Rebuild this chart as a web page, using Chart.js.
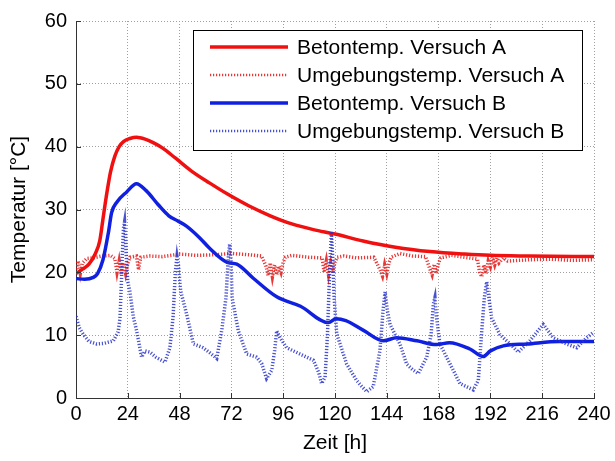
<!DOCTYPE html>
<html>
<head>
<meta charset="utf-8">
<title>Temperaturverlauf</title>
<script src="https://cdn.jsdelivr.net/npm/chart.js@4.4.1/dist/chart.umd.min.js"></script>
<style>
  html, body { margin: 0; padding: 0; background: #fff; }
  #wrap { width: 615px; height: 461px; }
</style>
</head>
<body>
<div id="wrap"><canvas id="chart" width="615" height="461"></canvas></div>
<script>
// ---- data ----
const xTicks = [0, 24, 48, 72, 96, 120, 144, 168, 192, 216, 240];
const yTicks = [0, 10, 20, 30, 40, 50, 60];

const hoursBetonA = [0, 3, 6, 9, 11, 12.5, 14, 16, 18, 20, 22, 25, 28, 32, 36, 40, 46, 54, 62, 70, 80, 90, 100, 110, 120, 133, 148, 164, 180, 192, 210, 240];
const tempBetonA  = [19.8, 20.5, 21.3, 23, 25, 28.5, 32, 36, 38.5, 40, 40.8, 41.3, 41.5, 41.2, 40.6, 39.8, 38.2, 36, 34.2, 32.5, 30.6, 29, 27.7, 26.8, 26.1, 25, 24, 23.3, 22.9, 22.7, 22.6, 22.5];

const hoursUmgA = [0, 1, 2, 3, 5, 8, 12, 16, 18, 19, 20, 21, 22, 23, 24, 25, 28, 29, 30, 34, 40, 48, 56, 64, 72, 80, 86, 88, 89, 90, 91, 92, 93, 94, 95, 96, 97, 100, 108, 114, 115, 116, 117, 118, 119, 120, 121, 124, 130, 138, 141, 142, 143, 144, 145, 146, 150, 156, 162, 164, 165, 166, 167, 168, 169, 174, 180, 186, 187, 188, 189, 190, 191, 192, 193, 194, 195, 196, 198, 200, 210, 220, 230, 240];
const tempUmgA  = [20.5, 21.8, 19.8, 21.5, 22.2, 22.3, 22.6, 22.7, 22.2, 20.0, 21.8, 19.6, 21.5, 19.8, 21.4, 22.4, 22.6, 20.4, 22.4, 22.6, 22.5, 22.9, 22.7, 22.8, 23.0, 22.8, 22.6, 21.0, 19.5, 21.5, 19.3, 21.2, 19.6, 21.0, 20.0, 21.6, 22.4, 22.7, 22.4, 22.3, 20.0, 21.8, 19.6, 21.5, 19.9, 21.6, 22.4, 22.6, 22.3, 22.4, 20.3, 19.4, 21.2, 19.8, 21.5, 22.4, 23.0, 22.6, 22.5, 20.5, 19.6, 21.3, 19.8, 21.5, 22.3, 22.7, 22.4, 22.1, 20.0, 19.3, 21.2, 19.8, 21.8, 20.9, 22.4, 21.2, 22.3, 21.5, 22.3, 21.8, 22.0, 22.1, 21.9, 22.0];

const hoursBetonB = [0, 4, 8, 10, 12.5, 15, 16.5, 19, 23.5, 28, 32.5, 38, 43, 47, 51, 57, 62, 70, 74.5, 82, 93, 104, 117, 120.5, 125, 133, 142.5, 148.5, 158, 167, 173, 182.5, 188.7, 192, 198, 209, 224, 240];
const tempBetonB  = [19.0, 18.9, 19.2, 19.8, 22, 26.3, 29.5, 31.2, 32.8, 34.1, 33, 30.8, 29, 28.2, 27.4, 25.6, 23.8, 21.6, 21.3, 19.1, 16.1, 14.6, 12.0, 12.6, 12.3, 10.8, 9.1, 9.6, 9.1, 8.5, 8.8, 7.8, 6.6, 7.5, 8.3, 8.6, 9.0, 9.0];

const hoursUmgB = [0, 1.5, 3.4, 6, 9.6, 13, 17.3, 19.5, 20.4, 21, 21.5, 22, 22.5, 23, 23.5, 24, 25, 26.5, 28.1, 30.4, 32, 34.3, 37, 41.2, 43.5, 45, 46, 46.8, 47.5, 48.5, 51.3, 54.4, 56, 58.9, 62, 65.2, 67.5, 69.5, 70.5, 71.2, 71.8, 72.3, 75.2, 79.1, 83.7, 86, 88.3, 90.7, 92, 93, 94.5, 97.6, 103.8, 110, 112.5, 113.8, 115.4, 116.5, 117.5, 118.3, 119, 119.6, 120.8, 125.4, 130, 132, 134.7, 137.7, 140.8, 142.3, 143.2, 144.2, 145.5, 150.1, 153.2, 156, 158.6, 162.5, 164.5, 165.6, 166.3, 167, 168.6, 174.8, 177.9, 181, 184.1, 186.4, 188, 189.2, 190.3, 191.3, 192.6, 196.4, 201.1, 204.9, 210.3, 213.5, 216.5, 221.1, 227.3, 232, 236.6, 240];
const tempUmgB  = [13.0, 11.2, 10.1, 9.0, 8.6, 8.7, 9.1, 10.5, 12.7, 18, 23, 27, 28, 25, 21, 18.5, 16.9, 13, 10.7, 6.5, 7.5, 7.3, 6.5, 5.7, 8.0, 13, 20, 22.5, 21, 17, 13.3, 8.6, 8.4, 8.0, 7.2, 6.3, 10.7, 16, 22, 24.5, 22, 16, 10.7, 7.0, 6.5, 5.5, 3.1, 4.4, 7.5, 10.7, 9.6, 8.0, 7.0, 6.0, 4.0, 2.3, 3.3, 10, 20, 26.5, 22, 16, 10.2, 5.4, 2.8, 2.0, 1.0, 1.8, 7.5, 14, 16.9, 14, 11.7, 8.6, 5.4, 4.5, 3.9, 6.5, 10, 15, 16, 13, 8.6, 4.4, 2.3, 1.8, 1.3, 2.8, 10.7, 16, 18.5, 16, 12.7, 10.1, 8.6, 7.3, 9.1, 10.5, 11.7, 9.6, 8.6, 8.0, 9.6, 10.5];

const labels = ["Betontemp. Versuch A", "Umgebungstemp. Versuch A", "Betontemp. Versuch B", "Umgebungstemp. Versuch B"];

const FONT = "'Liberation Sans', Arial, sans-serif";
const pts = (xs, ys) => xs.map((x, i) => ({ x, y: ys[i] }));

// ---- plugins ----
// MATLAB style ticks pointing into the plot
const innerTicks = {
  id: "innerTicks",
  afterDatasetsDraw(chart) {
    const { ctx, chartArea: a, scales: { x, y } } = chart;
    ctx.save();
    ctx.strokeStyle = "#333";
    ctx.lineWidth = 1;
    ctx.beginPath();
    x.ticks.forEach(t => {
      const px = Math.round(x.getPixelForValue(t.value)) + 0.5;
      ctx.moveTo(px, a.bottom);
      ctx.lineTo(px, a.bottom - 5);
    });
    y.ticks.forEach(t => {
      const py = Math.round(y.getPixelForValue(t.value)) + 0.5;
      ctx.moveTo(a.left, py);
      ctx.lineTo(a.left + 5, py);
    });
    ctx.stroke();
    ctx.restore();
  }
};

// boxed legend inside the plot
const boxLegend = {
  id: "boxLegend",
  afterDraw(chart) {
    const { ctx } = chart;
    const x0 = 193, y0 = 30, w = 389, h = 120;
    ctx.save();
    ctx.fillStyle = "#fff";
    ctx.fillRect(x0, y0, w, h);
    ctx.strokeStyle = "#000";
    ctx.lineWidth = 1;
    ctx.strokeRect(x0 + 0.5, y0 + 0.5, w, h);
    ctx.font = "21px " + FONT;
    ctx.textBaseline = "middle";
    chart.data.datasets.forEach((ds, i) => {
      const y = y0 + 17 + i * 28;
      ctx.beginPath();
      ctx.strokeStyle = ds.borderColor;
      ctx.lineWidth = ds.borderDash ? 2.5 : ds.borderWidth;
      ctx.setLineDash(ds.borderDash || []);
      ctx.moveTo(x0 + 17, y);
      ctx.lineTo(x0 + 95, y);
      ctx.stroke();
      ctx.setLineDash([]);
      ctx.fillStyle = "#000";
      ctx.fillText(ds.label, x0 + 104, y + 1);
    });
    ctx.restore();
  }
};

// ---- chart ----
const ctx = document.getElementById("chart").getContext("2d");
new Chart(ctx, {
  type: "line",
  data: {
    datasets: [
      { label: labels[0], data: pts(hoursBetonA, tempBetonA), borderColor: "#f01010", borderWidth: 3.5, cubicInterpolationMode: "monotone", order: 4 },
      { label: labels[1], data: pts(hoursUmgA, tempUmgA), borderColor: "rgba(228,20,20,0.85)", borderWidth: 3.5, borderDash: [1.2, 1.8], order: 3 },
      { label: labels[2], data: pts(hoursBetonB, tempBetonB), borderColor: "#1020e0", borderWidth: 3.5, cubicInterpolationMode: "monotone", order: 2 },
      { label: labels[3], data: pts(hoursUmgB, tempUmgB), borderColor: "rgba(40,50,200,0.85)", borderWidth: 3.5, borderDash: [1.2, 1.8], order: 1 }
    ]
  },
  options: {
    responsive: false,
    animation: false,
    devicePixelRatio: 1,
    layout: { padding: { left: 0, right: 21, top: 15, bottom: 0 } },
    elements: { point: { radius: 0 }, line: { fill: false } },
    plugins: { legend: { display: false }, tooltip: { enabled: false } },
    scales: {
      x: {
        type: "linear", min: 0, max: 240,
        afterBuildTicks: s => { s.ticks = xTicks.map(v => ({ value: v })); },
        afterFit: s => { s.height = 63; },
        ticks: { font: { family: FONT, size: 20 }, color: "#000", padding: 4, maxRotation: 0 },
        grid: { color: "#a0a0a0", drawTicks: false },
        border: { display: true, color: "#333", width: 1, dash: [1, 2] },
        title: { display: true, text: "Zeit [h]", font: { family: FONT, size: 21 }, color: "#000", padding: { top: 0, bottom: 5 } }
      },
      y: {
        min: 0, max: 60,
        afterBuildTicks: s => { s.ticks = yTicks.map(v => ({ value: v })); },
        afterFit: s => { s.width = 76; },
        ticks: { font: { family: FONT, size: 20 }, color: "#000", padding: 9 },
        grid: { color: "#a0a0a0", drawTicks: false },
        border: { display: true, color: "#333", width: 1, dash: [1, 2] },
        title: { display: true, text: "Temperatur [°C]", font: { family: FONT, size: 21 }, color: "#000", padding: { top: 7, bottom: 0 } }
      }
    }
  },
  plugins: [innerTicks, boxLegend]
});
</script>
</body>
</html>
